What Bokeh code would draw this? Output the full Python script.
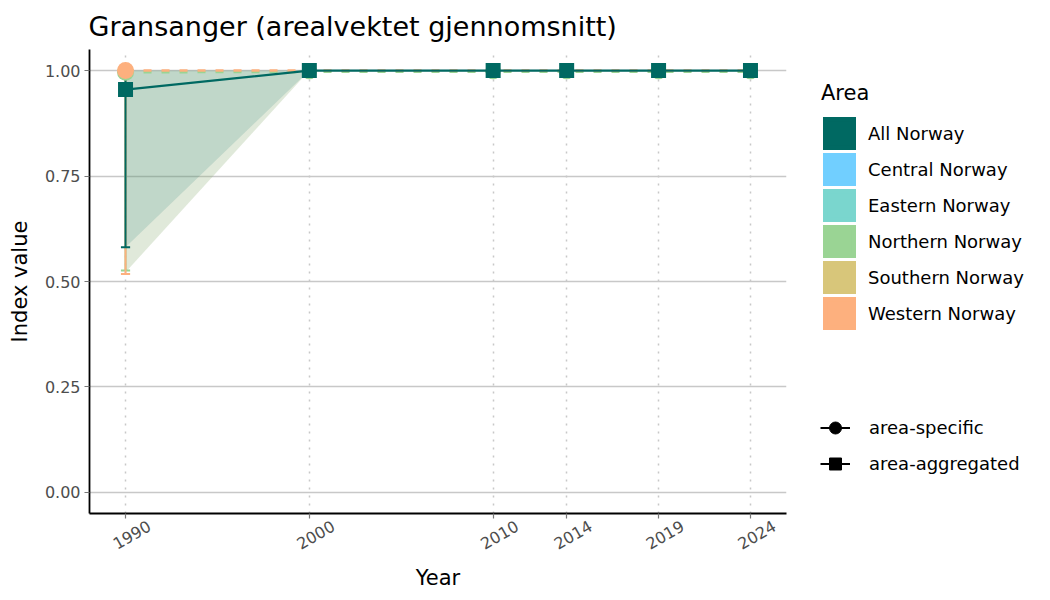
import math
import numpy as np
from bokeh.plotting import figure
from bokeh.layouts import row
from bokeh.models import (FixedTicker, Legend, LegendItem, ColumnDataSource,
                          Range1d, NumeralTickFormatter, LinearAxis,
                          CustomJSTickFormatter)
from bokeh.embed import file_html
from bokeh.resources import INLINE

# ---------------- data ----------------
years = [1990, 2000, 2010, 2014, 2019, 2024]

all_norway = [0.955, 1.0, 1.0, 1.0, 1.0, 1.0]
all_norway_lower = [0.581, 1.0, 1.0, 1.0, 1.0, 1.0]
all_norway_upper = [1.0, 1.0, 1.0, 1.0, 1.0, 1.0]

western = [1.0, 1.0, 1.0, 1.0, 1.0, 1.0]
western_lower = [0.518, 1.0, 1.0, 1.0, 1.0, 1.0]
western_upper = [1.0, 1.0, 1.0, 1.0, 1.0, 1.0]

northern = [0.996, 0.997, 0.997, 0.997, 0.997, 0.997]
northern_lower = [0.526, 0.997, 0.997, 0.997, 0.997, 0.997]
northern_upper = [1.0, 1.0, 1.0, 1.0, 1.0, 1.0]

ribbon_years = [1990, 2000]
regional_ribbon_lower = [0.522, 1.0]
regional_ribbon_upper = [1.0, 1.0]

area_names = ["All Norway", "Central Norway", "Eastern Norway",
              "Northern Norway", "Southern Norway", "Western Norway"]
area_colors = ["#006962", "#71CFFF", "#7AD6CE", "#9AD494", "#D8C67A", "#FDB07E"]

type_names = ["area-specific", "area-aggregated"]

y_ticks = [0.0, 0.25, 0.5, 0.75, 1.0]

FONT = "DejaVu Sans"
C_ALL = area_colors[0]
C_NORTH = area_colors[3]
C_WEST = area_colors[5]

# ---------------- main figure ----------------
p = figure(width=796, height=598,
           x_range=Range1d(1988.04, 2025.96), y_range=Range1d(-0.05, 1.05),
           output_backend="svg", toolbar_location=None,
           min_border_left=89, min_border_right=10,
           min_border_top=49, min_border_bottom=85)
p.background_fill_color = "white"
p.border_fill_color = "white"
p.outline_line_color = None

p.title.text = "Gransanger (arealvektet gjennomsnitt)"
p.title.text_font = FONT
p.title.text_font_size = "27px"
p.title.text_font_style = "normal"
p.title.text_color = "#000000"
p.title.offset = -1
p.title.standoff = 16

# axes
p.xaxis.ticker = FixedTicker(ticks=years)
p.yaxis.ticker = FixedTicker(ticks=y_ticks)
p.yaxis.formatter = NumeralTickFormatter(format="0.00")
p.yaxis.axis_label = "Index value"
for ax in (p.xaxis, p.yaxis):
    ax.axis_line_color = "black"
    ax.axis_line_width = 1.8
    ax.major_tick_line_color = "#777777"
    ax.major_tick_line_width = 1.2
    ax.major_tick_out = 5
    ax.major_tick_in = 0
    ax.minor_tick_line_color = None
    ax.major_label_text_font = FONT
    ax.major_label_text_font_size = "16px"
    ax.major_label_text_color = "#4D4D4D"
    ax.axis_label_text_font = FONT
    ax.axis_label_text_font_size = "21px"
    ax.axis_label_text_font_style = "normal"
    ax.axis_label_text_color = "#000000"
p.yaxis.major_label_standoff = 4
p.yaxis.axis_label_standoff = 10
# the main x axis carries the axis line and tick marks only;
# the year labels come from a second axis below it
p.xaxis.formatter = CustomJSTickFormatter(code="return '';")
p.xaxis.major_label_text_font_size = "1px"
p.xaxis.major_label_standoff = 0

# second (label) axis: rotated year labels centred on their ticks
label_shift = 1.3  # years, to centre rotated labels on their ticks
lab_axis = LinearAxis(ticker=FixedTicker(ticks=[y + label_shift for y in years]),
                      formatter=CustomJSTickFormatter(
                          code="return String(Math.round(tick - %r));" % label_shift),
                      axis_line_color=None, major_tick_line_color=None,
                      minor_tick_line_color=None, major_tick_out=0, major_tick_in=0,
                      major_label_orientation=math.pi / 6,
                      major_label_standoff=6,
                      major_label_text_font=FONT, major_label_text_font_size="16px",
                      major_label_text_color="#4D4D4D",
                      axis_label="Year", axis_label_standoff=8,
                      axis_label_text_font=FONT, axis_label_text_font_size="21px",
                      axis_label_text_font_style="normal",
                      axis_label_text_color="#000000")
p.add_layout(lab_axis, "below")

# grids
p.xgrid.ticker = FixedTicker(ticks=years)
p.xgrid.grid_line_color = "#c8c8c8"
p.xgrid.grid_line_width = 1.5
p.xgrid.grid_line_dash = "2 6"
p.ygrid.ticker = FixedTicker(ticks=y_ticks)
p.ygrid.grid_line_color = "#c8c8c8"
p.ygrid.grid_line_width = 1.6

# ---------------- glyphs ----------------
yrs = np.array(years, dtype=float)
cap = 0.25

# ribbons
p.varea(x=ribbon_years, y1=regional_ribbon_lower, y2=regional_ribbon_upper,
        fill_color="#8fb07a", fill_alpha=0.28)
p.varea(x=years, y1=all_norway_lower, y2=all_norway_upper,
        fill_color=C_ALL, fill_alpha=0.14)

# regional dashed lines
p.line(years, northern, line_color=C_NORTH, line_width=2.5, line_dash="8 10")
p.line(years, western, line_color=C_WEST, line_width=2.5, line_dash="8 10")

# regional error bars
for vals_lo, vals_hi, col in ((northern_lower, northern_upper, C_NORTH),
                              (western_lower, western_upper, C_WEST)):
    p.segment(x0=years, y0=vals_lo, x1=years, y1=vals_hi, line_color=col, line_width=2)
    p.segment(x0=yrs - cap, y0=vals_lo, x1=yrs + cap, y1=vals_lo, line_color=col, line_width=2)

# All Norway error bars
p.segment(x0=years, y0=all_norway_lower, x1=years, y1=all_norway_upper,
          line_color=C_ALL, line_width=2)
p.segment(x0=yrs - cap, y0=all_norway_lower, x1=yrs + cap, y1=all_norway_lower,
          line_color=C_ALL, line_width=2)
p.segment(x0=yrs - cap, y0=all_norway_upper, x1=yrs + cap, y1=all_norway_upper,
          line_color=C_ALL, line_width=2)

# regional points (first survey drawn larger, later ones mostly hidden)
for vals, col in ((northern, C_NORTH), (western, C_WEST)):
    p.scatter(years[:1], vals[:1], marker="circle", size=17, fill_color=col, line_color=None)
    p.scatter(years[1:], vals[1:], marker="circle", size=15, fill_color=col, line_color=None)

# All Norway line + squares
p.line(years, all_norway, line_color=C_ALL, line_width=2.2)
p.scatter(years, all_norway, marker="square", size=15, fill_color=C_ALL,
          line_color=None)

# ---------------- legend panel ----------------
q = figure(width=250, height=598, x_range=Range1d(0, 1), y_range=Range1d(0, 1),
           output_backend="svg", toolbar_location=None,
           x_axis_location=None, y_axis_location=None, min_border=0)
q.grid.visible = False
q.outline_line_color = None
q.background_fill_color = "white"
q.border_fill_color = "white"

# legend proxies: a single NaN row, so nothing is drawn in the panel itself
proxy = ColumnDataSource(data=dict(left=[np.nan], right=[np.nan], top=[np.nan],
                                   bottom=[np.nan], x=[np.nan], y=[np.nan]))
area_items = []
for name, col in zip(area_names, area_colors):
    r = q.quad(left="left", right="right", top="top", bottom="bottom", source=proxy,
               fill_color=col, line_color=col, line_width=4.2, line_join="miter")
    area_items.append(LegendItem(label=name, renderers=[r]))

leg1 = Legend(items=area_items, location=(25, 182),
              title="Area",
              glyph_width=36, glyph_height=36, spacing=0,
              label_standoff=11, padding=0, margin=0,
              title_standoff=10,
              title_text_font=FONT, title_text_font_size="21px",
              title_text_font_style="normal", title_text_color="#000000",
              label_text_font=FONT, label_text_font_size="18px",
              label_text_color="#000000",
              border_line_alpha=0, background_fill_alpha=0)
q.add_layout(leg1, "center")

type_items = []
for name, mk in zip(type_names, ["circle", "square"]):
    rl = q.line(x="x", y="y", source=proxy, line_color="black", line_width=2)
    rs = q.scatter(x="x", y="y", source=proxy, marker=mk, fill_color="black",
                   line_color="black")
    type_items.append(LegendItem(label=name, renderers=[rl, rs]))

leg2 = Legend(items=type_items, location=(24, 33),
              glyph_width=30, glyph_height=33, spacing=3,
              label_standoff=19, padding=0, margin=0,
              label_text_font=FONT, label_text_font_size="18px",
              label_text_color="#000000",
              border_line_alpha=0, background_fill_alpha=0)
q.add_layout(leg2, "center")

layout = row(p, q, spacing=0)
open("out.html", "w").write(file_html(layout, INLINE))
